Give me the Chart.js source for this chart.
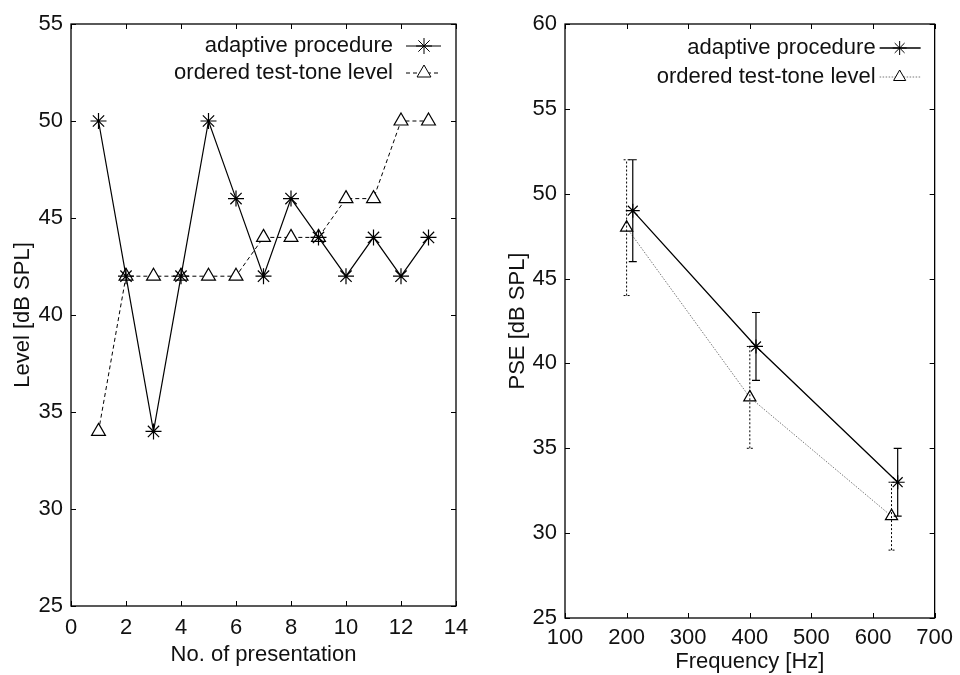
<!DOCTYPE html>
<html>
<head>
<meta charset="utf-8">
<script src="https://cdn.jsdelivr.net/npm/chart.js@4.4.1/dist/chart.umd.min.js"></script>
<style>
  body { margin: 0; background: #fff; }
  #wrap { position: relative; width: 960px; height: 675px; }
  canvas { position: absolute; top: 0; }
</style>
</head>
<body>
<div id="wrap">
  <canvas id="left" width="480" height="675" style="left:0"></canvas>
  <canvas id="right" width="480" height="675" style="left:480px"></canvas>
</div>
<script>
// left panel: level per presentation
const presentations = [1, 2, 3, 4, 5, 6, 7, 8, 9, 10, 11, 12, 13];
const adaptiveLevel = [50, 42, 34, 42, 50, 46, 42, 46, 44, 42, 44, 42, 44];
const orderedLevel = [34, 42, 42, 42, 42, 42, 44, 44, 44, 46, 46, 50, 50];

// right panel: PSE vs frequency, with error bars
const adaptiveFreq = [210, 410, 640];
const adaptivePSE = [49, 41, 33];
const adaptiveLow = [46, 39, 31];
const adaptiveHigh = [52, 43, 35];
const orderedFreq = [200, 400, 630];
const orderedPSE = [48, 38, 31];
const orderedLow = [44, 35, 29];
const orderedHigh = [52, 41, 33];

const legendLabels = ["adaptive procedure", "ordered test-tone level"];

const FONT = "'Liberation Sans', Arial, sans-serif";
const FS = 22;
Chart.defaults.font.family = FONT;
Chart.defaults.color = "#111";

const toXY = (xs, ys) => xs.map((x, i) => ({x: x, y: ys[i]}));

// frame + inward ticks on all four sides
const framePlugin = {
  id: "frame",
  afterDraw(chart) {
    const ctx = chart.ctx, a = chart.chartArea;
    const xs = chart.scales.x, ys = chart.scales.y;
    const tl = 5;
    ctx.save();
    ctx.strokeStyle = "#000";
    ctx.lineWidth = 1.3;
    ctx.strokeRect(a.left, a.top, a.right - a.left, a.bottom - a.top);
    ctx.lineWidth = 1;
    ctx.beginPath();
    xs.ticks.forEach(t => {
      const px = Math.round(xs.getPixelForValue(t.value)) + 0.5;
      ctx.moveTo(px, a.bottom); ctx.lineTo(px, a.bottom - tl);
      ctx.moveTo(px, a.top); ctx.lineTo(px, a.top + tl);
    });
    ys.ticks.forEach(t => {
      const py = Math.round(ys.getPixelForValue(t.value)) + 0.5;
      ctx.moveTo(a.left, py); ctx.lineTo(a.left + tl, py);
      ctx.moveTo(a.right, py); ctx.lineTo(a.right - tl, py);
    });
    ctx.stroke();
    ctx.restore();
  }
};

// error bars from dataset.errLow / errHigh
const errorBarPlugin = {
  id: "errbars",
  afterDatasetsDraw(chart) {
    const ctx = chart.ctx;
    const xs = chart.scales.x, ys = chart.scales.y;
    chart.data.datasets.forEach(ds => {
      if (!ds.errLow) return;
      ctx.save();
      ctx.strokeStyle = "#000";
      ctx.lineWidth = ds.errWidth;
      ctx.setLineDash(ds.errDash);
      ds.data.forEach((p, i) => {
        const px = xs.getPixelForValue(p.x);
        const lo = ys.getPixelForValue(ds.errLow[i]);
        const hi = ys.getPixelForValue(ds.errHigh[i]);
        const c = ds.errCap;
        ctx.beginPath();
        ctx.moveTo(px, lo); ctx.lineTo(px, hi);
        ctx.moveTo(px - c, lo); ctx.lineTo(px + c, lo);
        ctx.moveTo(px - c, hi); ctx.lineTo(px + c, hi);
        ctx.stroke();
      });
      ctx.restore();
    });
  }
};

// gnuplot style key: text on the left, line sample + marker on the right
const keyPlugin = {
  id: "key",
  afterDraw(chart, args, opts) {
    const ctx = chart.ctx, a = chart.chartArea;
    ctx.save();
    ctx.font = FS + "px " + FONT;
    ctx.textAlign = "right";
    ctx.textBaseline = "middle";
    chart.data.datasets.forEach((ds, i) => {
      const y = a.top + opts.rows[i];
      ctx.fillStyle = "#111";
      ctx.fillText(ds.label, a.right - opts.textGap, y);
      ctx.strokeStyle = ds.borderColor;
      ctx.lineWidth = ds.borderWidth;
      ctx.setLineDash(ds.borderDash || []);
      ctx.beginPath();
      ctx.moveTo(a.right - opts.sampleL, y);
      ctx.lineTo(a.right - opts.sampleR, y);
      ctx.stroke();
      ctx.setLineDash([]);
      ctx.strokeStyle = "#000";
      ctx.fillStyle = "#fff";
      ctx.lineWidth = 1;
      Chart.helpers.drawPoint(ctx, {
        pointStyle: ds.pointStyle, radius: ds.pointRadius, rotation: 0, borderWidth: 1
      }, a.right - opts.marker, y);
    });
    ctx.restore();
  }
};

function axes(xMin, xMax, xStep, yMin, yMax, xTitle, yTitle, cfg) {
  return {
    x: {
      type: "linear", min: xMin, max: xMax,
      ticks: { stepSize: xStep, padding: cfg.xPad, font: { size: FS }, maxRotation: 0, autoSkip: false },
      grid: { display: false, drawTicks: false },
      border: { display: false },
      title: { display: true, text: xTitle, font: { size: FS }, padding: { top: 0, bottom: cfg.xTitlePad } },
      afterFit: s => { s.height = cfg.xHeight; }
    },
    y: {
      min: yMin, max: yMax,
      ticks: { stepSize: 5, padding: 8, font: { size: FS }, autoSkip: false },
      grid: { display: false, drawTicks: false },
      border: { display: false },
      title: { display: true, text: yTitle, font: { size: FS }, padding: { top: cfg.yTitlePad, bottom: 0 } },
      afterFit: s => { s.width = cfg.yWidth; }
    }
  };
}

new Chart(document.getElementById("left"), {
  type: "line",
  data: {
    datasets: [{
      label: legendLabels[0],
      data: toXY(presentations, adaptiveLevel),
      borderColor: "#000", borderWidth: 1.2,
      pointStyle: "star", pointRadius: 8, pointBorderWidth: 1.2,
      pointBorderColor: "#000", pointBackgroundColor: "#000"
    }, {
      label: legendLabels[1],
      data: toXY(presentations, orderedLevel),
      borderColor: "#000", borderWidth: 1, borderDash: [4, 3],
      pointStyle: "triangle", pointRadius: 8, pointBorderWidth: 1.2,
      pointBorderColor: "#000", pointBackgroundColor: "#fff"
    }]
  },
  options: {
    responsive: false, animation: false,
    layout: { padding: { top: 24, right: 24, left: 0, bottom: 0 } },
    plugins: {
      legend: { display: false }, tooltip: { enabled: false },
      key: { rows: [22, 49], textGap: 63, sampleL: 50, sampleR: 15, marker: 32 }
    },
    scales: axes(0, 14, 2, 25, 55, "No. of presentation", "Level [dB SPL]",
      { xPad: 9, xHeight: 69, xTitlePad: 7, yWidth: 71, yTitlePad: 10 })
  },
  plugins: [framePlugin, keyPlugin]
});

new Chart(document.getElementById("right"), {
  type: "line",
  data: {
    datasets: [{
      label: legendLabels[0],
      data: toXY(adaptiveFreq, adaptivePSE),
      errLow: adaptiveLow, errHigh: adaptiveHigh, errDash: [], errWidth: 1.2, errCap: 4,
      borderColor: "#000", borderWidth: 1.3,
      pointStyle: "star", pointRadius: 7, pointBorderWidth: 1.2,
      pointBorderColor: "#000", pointBackgroundColor: "#000"
    }, {
      label: legendLabels[1],
      data: toXY(orderedFreq, orderedPSE),
      errLow: orderedLow, errHigh: orderedHigh, errDash: [2, 2], errWidth: 1, errCap: 3,
      borderColor: "#777", borderWidth: 1, borderDash: [1.5, 1.5],
      pointStyle: "triangle", pointRadius: 7, pointBorderWidth: 1.2,
      pointBorderColor: "#000", pointBackgroundColor: "#fff"
    }]
  },
  options: {
    responsive: false, animation: false,
    layout: { padding: { top: 24, right: 20, left: 0, bottom: 0 } },
    plugins: {
      legend: { display: false }, tooltip: { enabled: false },
      key: { rows: [24, 53], textGap: 59, sampleL: 55, sampleR: 14, marker: 35 }
    },
    scales: axes(100, 700, 100, 25, 60, "Frequency [Hz]", "PSE [dB SPL]",
      { xPad: 7, xHeight: 57, xTitlePad: 0, yWidth: 85, yTitlePad: 25 })
  },
  plugins: [errorBarPlugin, framePlugin, keyPlugin]
});
</script>
</body>
</html>
